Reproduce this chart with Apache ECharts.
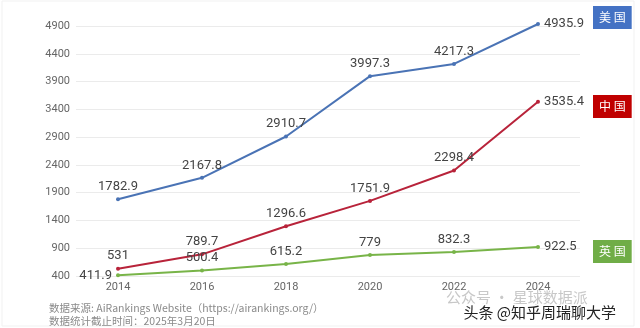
<!DOCTYPE html>
<html>
<head>
<meta charset="utf-8">
<script src="https://cdn.jsdelivr.net/npm/echarts@6/dist/echarts.min.js"></script>
<style>
  html, body { margin: 0; padding: 0; background: #fff; }
  #chart { width: 640px; height: 328px; }
</style>
</head>
<body>
<div id="chart"></div>
<script>
// Years on the horizontal axis
const years = ['2014', '2016', '2018', '2020', '2022', '2024'];

// Values per country
const usaValues = [1782.9, 2167.8, 2910.7, 3997.3, 4217.3, 4935.9];
const chinaValues = [531, 789.7, 1296.6, 1751.9, 2298.4, 3535.4];
const ukValues = [411.9, 500.4, 615.2, 779, 832.3, 922.5];

// Series names and colours
const seriesNames = ['美国', '中国', '英国'];
const lineColors = ['#4a73b5', '#b8233a', '#78b448'];
const tagColors = ['#4472c4', '#c00000', '#70ad47'];

// Value axis range
const yMin = 400;
const yMax = 4900;
const yStep = 500;

const FONT = 'Roboto, "Noto Sans CJK SC", sans-serif';
const CJK = '"Noto Sans CJK SC", sans-serif';

const chart = echarts.init(document.getElementById('chart'));

function makeSeries(name, data, color, firstPos) {
  return {
    name: name,
    type: 'line',
    data: data.map((v, i) => ({
      value: v,
      label: {
        position: i === data.length - 1 ? 'right' : (i === 0 && firstPos ? firstPos : 'top')
      }
    })),
    clip: false,
    symbol: 'circle',
    symbolSize: 4,
    lineStyle: { color: color, width: 2 },
    itemStyle: { color: color },
    label: {
      show: true,
      color: '#444',
      fontSize: 13,
      fontFamily: FONT,
      distance: 4
    },
    emphasis: { disabled: true }
  };
}

function tagLegend(idx, top) {
  return {
    data: [seriesNames[idx]],
    left: 587,
    top: top,
    padding: 0,
    itemWidth: 0,
    itemHeight: 0,
    selectedMode: false,
    formatter: n => n.split('').join(' '),
    textStyle: {
      color: '#fff',
      fontSize: 12,
      fontFamily: CJK,
      backgroundColor: tagColors[idx],
      padding: [5, 6, 5, 6],
      lineHeight: 13
    }
  };
}

chart.setOption({
  animation: false,
  backgroundColor: '#fff',
  grid: { left: 76, right: 60, top: 26, bottom: 52 },
  legend: [tagLegend(0, 6), tagLegend(1, 95), tagLegend(2, 240)],
  xAxis: {
    type: 'category',
    data: years,
    boundaryGap: true,
    axisLine: { show: false },
    axisTick: { show: false },
    axisLabel: { color: '#666', fontSize: 11, fontFamily: FONT, margin: 6 }
  },
  yAxis: {
    type: 'value',
    min: yMin,
    max: yMax,
    interval: yStep,
    axisLine: { show: false },
    axisTick: { show: false },
    axisLabel: {
      color: '#666',
      fontSize: 11,
      fontFamily: FONT,
      margin: 6,
      formatter: v => String(v)
    },
    splitLine: { lineStyle: { color: '#ebebeb', width: 1 } }
  },
  series: [
    makeSeries(seriesNames[0], usaValues, lineColors[0]),
    makeSeries(seriesNames[1], chinaValues, lineColors[1]),
    makeSeries(seriesNames[2], ukValues, lineColors[2], 'left')
  ],
  graphic: [
    {
      type: 'rect',
      shape: { x: 2, y: 1, width: 632, height: 325 },
      style: { fill: 'none', stroke: '#f1f1f1', lineWidth: 1 },
      silent: true
    },
    {
      type: 'text',
      left: 49,
      top: 302,
      style: {
        text: '数据来源: AiRankings Website（https://airankings.org/）\n数据统计截止时间：2025年3月20日',
        fill: '#8a8a8a',
        font: '10.5px ' + CJK,
        lineHeight: 12.5
      },
      silent: true
    },
    {
      type: 'text',
      left: 446,
      top: 290,
      style: {
        text: '公众号 · 星球数据派',
        fill: '#c8c8c8',
        font: '15px ' + CJK
      },
      silent: true
    },
    {
      type: 'text',
      left: 462,
      top: 303,
      style: {
        text: '头条 @知乎周瑞聊大学',
        fill: '#222',
        stroke: '#fff',
        lineWidth: 3,
        font: '15px ' + CJK
      },
      silent: true
    }
  ]
});
</script>
</body>
</html>
